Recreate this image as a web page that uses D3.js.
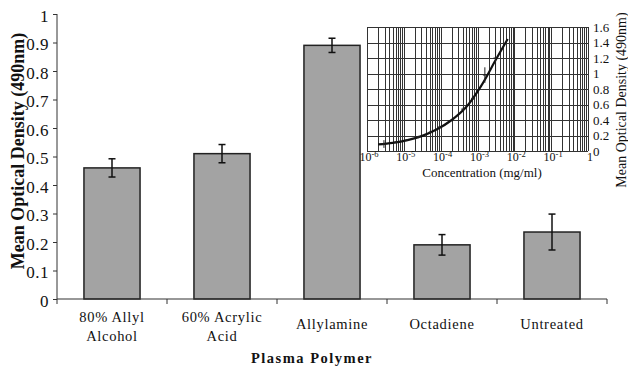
<!DOCTYPE html>
<html>
<head>
<meta charset="utf-8">
<script src="https://cdn.jsdelivr.net/npm/d3@7"></script>
<style>
  body { margin: 0; background: #fff; }
  svg text { font-family: "Liberation Serif", "Times New Roman", serif; fill: #111; }
</style>
</head>
<body>
<div id="chart"></div>
<script>
// main bar chart
const categories = [["80% Allyl", "Alcohol"], ["60% Acrylic", "Acid"], ["Allylamine"], ["Octadiene"], ["Untreated"]];
const meanOD = [0.46, 0.51, 0.89, 0.19, 0.235];
const errOD = [0.032, 0.032, 0.025, 0.036, 0.063];
const yTicks = [0, 0.1, 0.2, 0.3, 0.4, 0.5, 0.6, 0.7, 0.8, 0.9, 1];

// inset calibration curve (log10 of concentration)
const calibLogConc = [-5.54, -5.21, -4.92, -4.61, -4.29, -4.02, -3.39, -3.12, -2.80, -2.51];
const calibOD = [0.09, 0.115, 0.14, 0.18, 0.24, 0.31, 0.54, 0.68, 0.98, 1.20];
const calibErr = [0.05, 0.015, 0.012, 0.015, 0.015, 0.015, 0.02, 0.02, 0.10, 0.17];
const fitLogConc = [-5.7, -5.3, -4.9, -4.5, -4.1, -3.7, -3.3, -2.9, -2.5, -2.18];
const fitOD = [0.085, 0.105, 0.14, 0.195, 0.28, 0.40, 0.57, 0.84, 1.18, 1.445];
const insetYTicks = [0, 0.2, 0.4, 0.6, 0.8, 1, 1.2, 1.4, 1.6];
const insetXExp = [-6, -5, -4, -3, -2, -1, 0];

const width = 628, height = 367;
const serif = "Liberation Serif";

const svg = d3.select("#chart").append("svg")
    .attr("width", width)
    .attr("height", height)
    .attr("font-family", serif);

const x = d3.scaleBand()
    .domain(d3.range(categories.length))
    .range([57, 607])
    .paddingInner(0.49)
    .paddingOuter(0.245);

const y = d3.scaleLinear()
    .domain([0, 1])
    .range([299, 14]);

// bars
svg.append("g").selectAll("rect")
    .data(meanOD)
    .enter().append("rect")
    .attr("x", (d, i) => x(i))
    .attr("y", d => y(d))
    .attr("width", x.bandwidth())
    .attr("height", d => y(0) - y(d))
    .attr("fill", "#a3a3a3")
    .attr("stroke", "#222")
    .attr("stroke-width", 1.5);

// error bars
const eb = svg.append("g").attr("stroke", "#111").attr("stroke-width", 1.5);
meanOD.forEach((m, i) => {
    const cx = x(i) + x.bandwidth() / 2;
    eb.append("line").attr("x1", cx).attr("x2", cx).attr("y1", y(m + errOD[i])).attr("y2", y(m - errOD[i]));
    eb.append("line").attr("x1", cx - 3.5).attr("x2", cx + 3.5).attr("y1", y(m + errOD[i])).attr("y2", y(m + errOD[i]));
    eb.append("line").attr("x1", cx - 3.5).attr("x2", cx + 3.5).attr("y1", y(m - errOD[i])).attr("y2", y(m - errOD[i]));
});

// y axis
const yAxis = svg.append("g")
    .attr("transform", "translate(57,0)")
    .call(d3.axisLeft(y).tickValues(yTicks).tickSize(4).tickPadding(4).tickFormat(d => d === 0 || d === 1 ? d : d3.format(".1f")(d)));
yAxis.attr("font-family", serif);
yAxis.select(".domain").attr("stroke", "#333").attr("d", "M0," + y(1) + "V" + y(0));
yAxis.selectAll(".tick line").attr("stroke", "#333");
yAxis.selectAll(".tick text")
    .attr("font-size", 17)
    .attr("letter-spacing", 0.5)
    .attr("dy", "0.42em");

// x axis
const bounds = d3.range(categories.length + 1).map(i => 57 + i * x.step());
const xg = svg.append("g");
xg.append("line").attr("x1", 57).attr("x2", 607).attr("y1", 299).attr("y2", 299)
    .attr("stroke", "#333").attr("stroke-width", 1.2);
xg.selectAll(".tk").data(bounds).enter().append("line")
    .attr("x1", d => d).attr("x2", d => d).attr("y1", 299).attr("y2", 304)
    .attr("stroke", "#333");

const labels = svg.append("g").selectAll("text")
    .data(categories)
    .enter().append("text")
    .attr("text-anchor", "middle")
    .attr("font-family", serif)
    .attr("font-size", 14.5)
    .attr("letter-spacing", 0.7)
    .attr("x", (d, i) => x(i) + x.bandwidth() / 2)
    .attr("y", d => d.length > 1 ? 322 : 329);
labels.selectAll("tspan")
    .data(d => d)
    .enter().append("tspan")
    .attr("x", function () { return d3.select(this.parentNode).attr("x"); })
    .attr("dy", (d, i) => i === 0 ? 0 : 19)
    .text(d => d);

svg.append("text")
    .attr("x", 312).attr("y", 363)
    .attr("text-anchor", "middle")
    .attr("font-family", serif)
    .attr("font-size", 14.5)
    .attr("font-weight", "bold")
    .attr("letter-spacing", 1.5)
    .text("Plasma Polymer");

svg.append("text")
    .attr("transform", "translate(24,151) rotate(-90)")
    .attr("text-anchor", "middle")
    .attr("font-family", serif)
    .attr("font-size", 18)
    .attr("font-weight", "bold")
    .text("Mean Optical Density (490nm)");

// ---- inset ----
const ix = d3.scaleLog().domain([1e-6, 1]).range([367, 588]);
const iy = d3.scaleLinear().domain([0, 1.6]).range([151, 27]);

const inset = svg.append("g");
inset.append("rect").attr("x", 362).attr("y", 18).attr("width", 266).attr("height", 170).attr("fill", "#fff");

const minor = [];
for (let e = -6; e < 0; e++) {
    for (let k = 1; k < 10; k++) minor.push(k * Math.pow(10, e));
}
minor.push(1);

inset.append("g").selectAll("line")
    .data(minor)
    .enter().append("line")
    .attr("x1", d => Math.round(ix(d)) + 0.5).attr("x2", d => Math.round(ix(d)) + 0.5)
    .attr("y1", iy(1.6)).attr("y2", iy(0))
    .attr("stroke", "#333").attr("stroke-width", 1);

inset.append("g").selectAll("line")
    .data(insetYTicks)
    .enter().append("line")
    .attr("x1", ix(1e-6)).attr("x2", ix(1))
    .attr("y1", d => Math.round(iy(d)) + 0.5).attr("y2", d => Math.round(iy(d)) + 0.5)
    .attr("stroke", "#333").attr("stroke-width", 1);

// fitted curve
const fitLine = d3.line()
    .x(d => ix(Math.pow(10, d)))
    .y((d, i) => iy(fitOD[i]))
    .curve(d3.curveCatmullRom);
inset.append("path")
    .attr("d", fitLine(fitLogConc))
    .attr("fill", "none")
    .attr("stroke", "#111")
    .attr("stroke-width", 2.2);

// calibration error bars
const ieb = inset.append("g").attr("stroke", "#222").attr("stroke-width", 1);
calibLogConc.forEach((c, i) => {
    const px = ix(Math.pow(10, c));
    ieb.append("line").attr("x1", px).attr("x2", px)
        .attr("y1", iy(calibOD[i] + calibErr[i])).attr("y2", iy(calibOD[i] - calibErr[i]));
    ieb.append("line").attr("x1", px - 2).attr("x2", px + 2)
        .attr("y1", iy(calibOD[i])).attr("y2", iy(calibOD[i]));
});

// inset x labels
const xl = inset.append("g").selectAll("text")
    .data(insetXExp)
    .enter().append("text")
    .attr("x", d => ix(Math.pow(10, d)) + 2)
    .attr("y", 161)
    .attr("text-anchor", "middle")
    .attr("font-family", serif)
    .attr("font-size", 12);
xl.each(function (d) {
    const t = d3.select(this);
    if (d === 0) { t.text("1"); return; }
    t.append("tspan").text("10");
    t.append("tspan").attr("dy", -4).attr("font-size", 8.5).text("-" + Math.abs(d));
});

inset.append("text")
    .attr("x", 482).attr("y", 176.5)
    .attr("text-anchor", "middle")
    .attr("font-family", serif)
    .attr("font-size", 13)
    .text("Concentration (mg/ml)");

inset.append("g").selectAll("text")
    .data(insetYTicks)
    .enter().append("text")
    .attr("x", 593)
    .attr("y", d => iy(d) + 4.5)
    .attr("font-family", serif)
    .attr("font-size", 13)
    .text(d => d);

inset.append("text")
    .attr("transform", "translate(626,100) rotate(-90)")
    .attr("text-anchor", "middle")
    .attr("font-family", serif)
    .attr("font-size", 14)
    .text("Mean Optical Density (490nm)");
</script>
</body>
</html>
